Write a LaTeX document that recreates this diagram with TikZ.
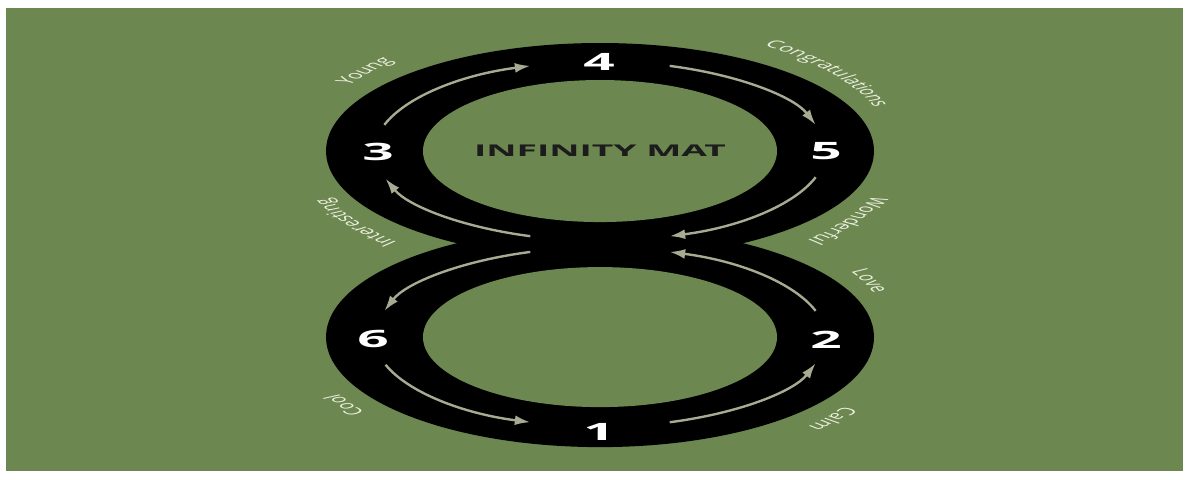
\documentclass[tikz,border=0pt]{standalone}
\usepackage{fontspec}
\setmainfont{Open Sans}
\usetikzlibrary{arrows.meta}

\definecolor{matgreen}{RGB}{109,135,80}
\definecolor{matarrow}{RGB}{166,171,146}
\definecolor{matlabel}{RGB}{236,240,224}
\definecolor{matink}{RGB}{28,28,28}

\newcommand{\lblsize}{\fontsize{7.6}{9}\selectfont}
% widths of the label letters, taken before the picture
\newcommand{\keepwidth}[1]{%
  \setbox0=\hbox{\normalfont\lblsize #1}%
  \expandafter\xdef\csname lw#1\endcsname{\the\wd0}}
\AtBeginDocument{%
  \foreach \ch in {C,I,L,W,Y,a,d,e,f,g,i,l,m,n,o,r,s,t,u,v} {\expandafter\keepwidth\expandafter{\ch}}}

% set a word letter by letter round a ring: name, centre x, centre y, mid angle, letters
\newcommand{\ringword}[5]{%
  \xdef\wordwd{0}%
  \foreach \ch in {#5} {%
    \edef\chw{\csname lw\ch\endcsname}%
    \pgfmathsetmacro\tmpwd{\wordwd+\chw}%
    \global\let\wordwd\tmpwd
  }%
  \pgfmathsetmacro\tmpang{#4+\wordwd/0.7113/127*28.6479}%
  \global\let\wordang\tmpang
  \foreach \ch [count=\k] in {#5} {%
    \edef\chw{\csname lw\ch\endcsname}%
    \pgfmathsetmacro\chstep{\chw/0.7113/127*57.2958}%
    \pgfmathsetmacro\chmid{\wordang-\chstep/2}%
    \node[ringlbl,rotate=\chmid-90] (#1-\k) at ({#2+2.3*127*cos(\chmid)},{#3+127*sin(\chmid)}) {\ch};
    \pgfmathsetmacro\tmpang{\wordang-\chstep}%
    \global\let\wordang\tmpang
  }%
}

\tikzset{
    matnum/.style={inner sep=0pt,text=white,font=\fontsize{17}{17}\selectfont\bfseries},
    mattitle/.style={inner sep=0pt,text=matink,font=\fontsize{11.5}{12}\selectfont\bfseries},
    ringlbl/.style={inner sep=0pt,anchor=base,text=matlabel,font=\lblsize},
    ringarrow/.style={draw=matarrow,line width=1.7pt,-{Latex[length=11pt,width=7pt]}},
}

\begin{document}
\begin{tikzpicture}[x=0.0108696cm,y=0.025cm,xscale=2.3,transform shape]
\path[fill=white,use as bounding box] (0,0) rectangle (1189,-479);
\fill[matgreen] (6,-8) rectangle (1183,-471);

% the two rings of the mat
\fill[black] (600,-151) ellipse [x radius=274,y radius=108];
\fill[black] (600,-337) ellipse [x radius=274,y radius=110];
\fill[matgreen] (600,-151) ellipse [x radius=177,y radius=71];
\fill[matgreen] (600,-337) ellipse [x radius=177,y radius=70];

% arrows along the track
\foreach \cy/\sa/\ea in {-151/163/108,-151/72/17,-151/-17/-72,-151/252/198,
    -337/17/72,-337/108/163,-337/198/252,-337/288/343} {
    \draw[ringarrow] ({600+225.5*cos(\sa)},{\cy+89.5*sin(\sa)})
        arc[start angle=\sa,end angle=\ea,x radius=225.5,y radius=89.5];
}

% numbers and title
\node[matnum] (n1) at (599,-432) {1};
\node[matnum] (n2) at (826,-340) {2};
\node[matnum] (n3) at (378,-152) {3};
\node[matnum] (n4) at (599,-62) {4};
\node[matnum] (n5) at (826,-151) {5};
\node[matnum] (n6) at (373,-339) {6};
\node[mattitle] (title) at (600,-150.5) {INFINITY MAT};

% words round the rings
\ringword{young}{600}{-151}{142}{Y,o,u,n,g}
\ringword{congrats}{600}{-151}{38}{C,o,n,g,r,a,t,u,l,a,t,i,o,n,s}
\ringword{wonderful}{600}{-151}{-33}{W,o,n,d,e,r,f,u,l}
\ringword{interesting}{600}{-151}{214}{I,n,t,e,r,e,s,t,i,n,g}
\ringword{love}{600}{-337}{25.7}{L,o,v,e}
\ringword{calm}{600}{-337}{-39}{C,a,l,m}
\ringword{cool}{600}{-337}{211.5}{C,o,o,l}
\end{tikzpicture}
\end{document}
